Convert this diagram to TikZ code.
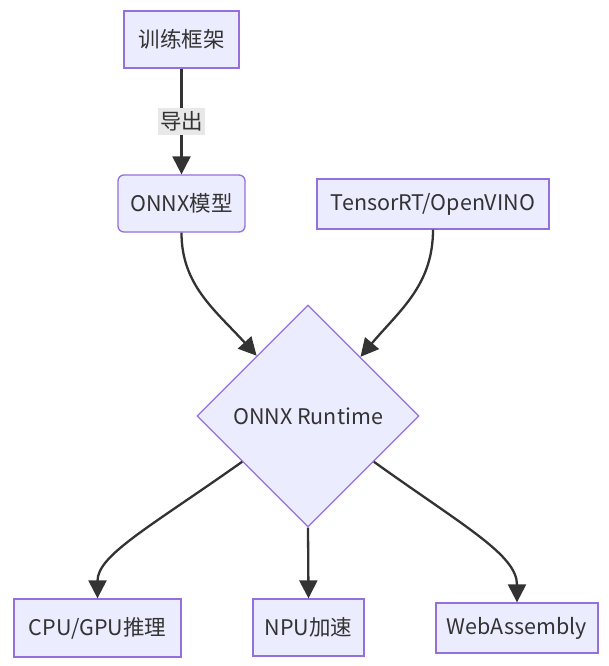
\documentclass[tikz,border=0pt]{standalone}
\usepackage{fontspec}
\setmainfont{Noto Sans CJK SC}
\usetikzlibrary{calc,arrows.meta,shapes.geometric}
\definecolor{nodefill}{HTML}{ECECFF}
\definecolor{nodeline}{HTML}{9370DB}
\definecolor{edgeline}{HTML}{333333}
\definecolor{labelfill}{HTML}{E8E8E8}
\tikzset{
	box/.style={draw=nodeline, fill=nodefill, line width=1.3pt, inner sep=0pt, text=edgeline, font=\fontsize{21.5}{25}\selectfont},
	decision/.style={box, diamond, aspect=1, minimum width=222pt, minimum height=222pt},
	flow/.style={draw=edgeline, line width=2.3pt, -{Triangle[length=18pt,width=18pt]}},
	flowlabel/.style={fill=labelfill, inner sep=0pt, minimum width=47pt, minimum height=27pt, text=edgeline, font=\fontsize{21.5}{25}\selectfont}
}

\begin{document}
\begin{tikzpicture}[x=1pt, y=1pt]
			%%%%% START %%%%%
			
			\fill[white] (0, 0) rectangle (609, -666);
			
			\node[box, minimum width=115pt, minimum height=57pt] (train) at (181.5, -39.5) {训练框架};
			\node[box, rounded corners=6pt, minimum width=127pt, minimum height=57pt] (onnx) at (181.5, -203.5) {ONNX模型};
			\node[box, minimum width=232pt, minimum height=50pt] (trt) at (433, -204) {TensorRT/OpenVINO};
			
			\node[decision] (ort) at (308, -416) {ONNX Runtime};
			
			\node[box, minimum width=167pt, minimum height=58pt] (cpu) at (97.5, -628) {CPU/GPU推理};
			\node[box, minimum width=111pt, minimum height=57pt] (npu) at (308.5, -627.5) {NPU加速};
			\node[box, minimum width=162pt, minimum height=50pt] (wasm) at (517, -628) {WebAssembly};
			
			\coordinate (ortnw) at ($(ort.west)!0.54!(ort.north)$);
			\coordinate (ortne) at ($(ort.east)!0.53!(ort.north)$);
			\coordinate (ortsw) at ($(ort.west)!0.41!(ort.south)$);
			\coordinate (ortse) at ($(ort.east)!0.41!(ort.south)$);
			
			\draw[flow] (train.south) -- node[flowlabel] (export) {导出} (onnx.north);
			\draw[flow] (onnx.south) .. controls (181.5, -285) and (215, -310) .. (ortnw);
			\draw[flow] (trt.south) .. controls (433, -285) and (400, -310) .. (ortne);
			
			\draw[flow] (ortsw) .. controls (150, -527) and (97.5, -555) .. (cpu.north);
			\draw[flow] (ort.south) -- (npu.north);
			\draw[flow] (ortse) .. controls (465, -527) and (517, -555) .. (wasm.north);
			
			%%%%% END %%%%%
\end{tikzpicture}
\end{document}
